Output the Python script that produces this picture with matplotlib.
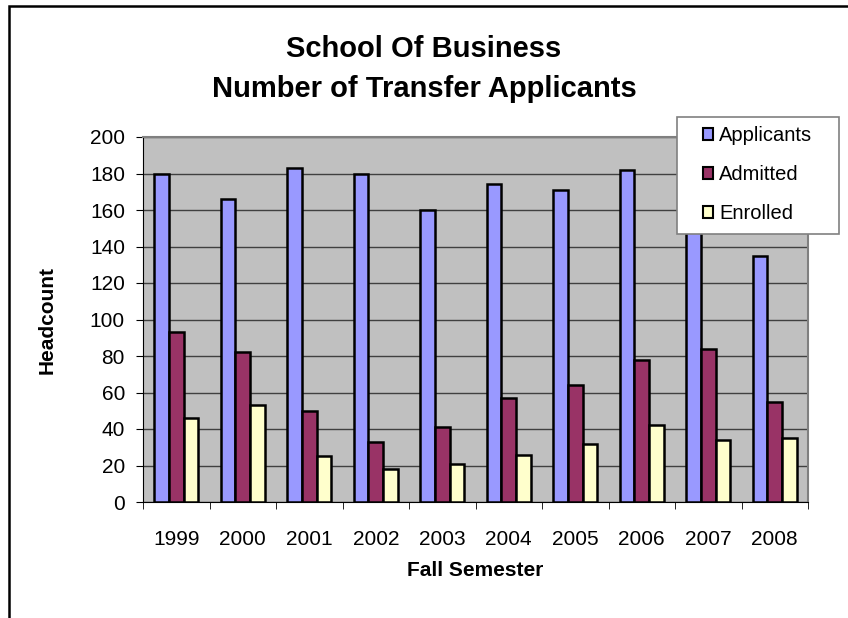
import numpy as np
import matplotlib
matplotlib.use("Agg")
import matplotlib.pyplot as plt
from matplotlib.patches import Rectangle

# School of Business transfer applicants by fall semester
years = ['1999', '2000', '2001', '2002', '2003', '2004', '2005', '2006', '2007', '2008']
applicants = [180, 166, 183, 180, 160, 174, 171, 182, 152, 135]
admitted = [93, 82, 50, 33, 41, 57, 64, 78, 84, 55]
enrolled = [46, 53, 25, 18, 21, 26, 32, 42, 34, 35]

plt.rcParams['font.family'] = ['Liberation Sans', 'DejaVu Sans']

fig = plt.figure(figsize=(8.48, 6.18), dpi=100)
ax = fig.add_axes([143/848, 1 - 502/618, (808 - 143)/848, (502 - 137)/618])
ax.set_facecolor('#C0C0C0')

x = np.arange(len(years))
w = 0.22
b1 = ax.bar(x - w, applicants, w, color='#9999FF', edgecolor='black', linewidth=1.8, label='Applicants', zorder=3)
b2 = ax.bar(x, admitted, w, color='#993366', edgecolor='black', linewidth=1.8, label='Admitted', zorder=3)
b3 = ax.bar(x + w, enrolled, w, color='#FFFFCC', edgecolor='black', linewidth=1.8, label='Enrolled', zorder=3)

ax.set_xlim(-0.5, len(years) - 0.5)
ax.set_ylim(0, 200)
ax.set_yticks(range(0, 201, 20))
ax.yaxis.grid(True, color='#404040', linewidth=1, zorder=0)
ax.set_axisbelow(True)

ax.set_xticks(x)
ax.set_xticklabels(years)
ax.set_xticks(np.arange(-0.5, len(years)), minor=True)
ax.tick_params(axis='x', which='major', length=0, pad=20, labelsize=15)
ax.tick_params(axis='x', which='minor', length=5, direction='out', color='black')
ax.tick_params(axis='y', length=5, direction='out', pad=8, labelsize=15)

ax.spines['left'].set_color('black')
ax.spines['bottom'].set_color('black')
ax.spines['top'].set_color('#808080')
ax.spines['right'].set_color('#808080')
ax.spines['top'].set_linewidth(1.5)
ax.spines['right'].set_linewidth(1.5)

ax.set_xlabel('Fall Semester', fontsize=15, fontweight='bold', labelpad=9)
ax.set_ylabel('Headcount', fontsize=15, fontweight='bold', labelpad=24)

fig.text(0.5, 1 - 49/618, 'School Of Business', ha='center', va='center', fontsize=21, fontweight='bold')
fig.text(0.5, 1 - 89/618, 'Number of Transfer Applicants', ha='center', va='center', fontsize=21, fontweight='bold')

# legend box drawn separately so its size matches the original
fig.add_artist(Rectangle((677/848, 1 - 234/618), (839 - 677)/848, (234 - 117)/618,
                         transform=fig.transFigure, facecolor='white',
                         edgecolor='#808080', linewidth=1.2, zorder=5))
leg = fig.legend(handles=[b1, b2, b3], loc='upper left',
                 bbox_to_anchor=(703/848, 1 - 126/618),
                 fontsize=14.5, frameon=False,
                 handlelength=0.5, handleheight=0.5, handletextpad=0.3,
                 labelspacing=1.0, borderpad=0, borderaxespad=0)
leg.set_zorder(6)
for h in leg.legend_handles:
    h.set_linewidth(1.5)

# outer chart border (cropped on right and bottom)
fig.add_artist(Rectangle((9/848, -1), 2, 2 - 6/618, transform=fig.transFigure,
                         fill=False, edgecolor='black', linewidth=1.8))

fig.savefig('out.png', dpi=100)
